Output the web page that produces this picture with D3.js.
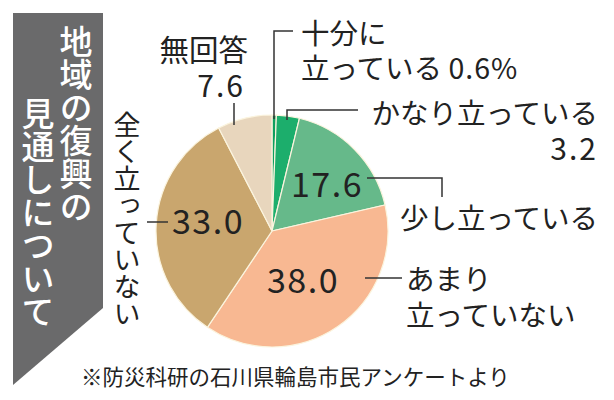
<!DOCTYPE html>
<html><head><meta charset="utf-8">
<script src="https://cdn.jsdelivr.net/npm/d3@7"></script>
<style>
html,body{margin:0;padding:0;background:#fff;}
text{font-family:"Noto Sans CJK JP","Noto Sans",sans-serif;}
</style></head>
<body>
<svg id="c" width="614" height="400"></svg>
<script>
const categories = ["十分に立っている","かなり立っている","少し立っている","あまり立っていない","全く立っていない","無回答"];
const values = [0.6, 3.2, 17.6, 38.0, 33.0, 7.6];
const colors = ["#0e9e5e","#1cae6c","#66b98a","#f8b892","#c9a66e","#e8d6bd"];
const titleLines = ["地域の復興の","見通しについて"];
const note = "※防災科研の石川県輪島市民アンケートより";

const svg = d3.select("#c");
svg.append("rect").attr("width",614).attr("height",400).attr("fill","#fff");

// title banner
svg.append("path").attr("d","M13,13 H103 V308 L13,385 Z").attr("fill","#6a6a6b");
const tcol = [{x:76,y:25},{x:38,y:97}];
titleLines.forEach((t,i)=>{
  svg.append("text").attr("x",tcol[i].x).attr("y",tcol[i].y)
    .style("writing-mode","vertical-rl").attr("font-size",33).attr("font-weight",500)
    .attr("fill","#fff").text(t);
});

// pie
const cx=272, cy=231, r=116;
const pie = d3.pie().sort(null).value(d=>d)(values);
const arc = d3.arc().innerRadius(0).outerRadius(r);
const g = svg.append("g").attr("transform",`translate(${cx},${cy})`);
g.selectAll("path").data(pie).join("path")
  .attr("d",arc).attr("fill",(d,i)=>colors[i])
  .attr("stroke","#fbf4de").attr("stroke-width",1.2);

// leader lines
const leaders = ["M293,31 H274 V119","M358,110 H287 V120","M367,178 H442 V197","M365,278 H402","M147,222 H168","M234,103 V125"];
svg.selectAll("path.ld").data(leaders).join("path").attr("class","ld")
  .attr("d",d=>d).attr("fill","none").attr("stroke","#333").attr("stroke-width",1.5);

const ink="#222";
const fmt = v=>v.toFixed(1);
function L(lines){
  const t = svg.append("text").attr("fill",ink);
  lines.forEach(l=>{
    t.append("tspan").attr("x",l.x).attr("y",l.y).attr("font-size",l.size)
      .attr("text-anchor",l.anchor||"start").attr("letter-spacing",l.ls||0).text(l.s);
  });
  return t;
}
L([{s:"十分に",x:301,y:44,size:28.5},
   {s:"立っている ",x:301,y:79,size:28.5}]).append("tspan").attr("font-size",28.5).attr("letter-spacing",1).text(fmt(values[0])+"%");
L([{s:"かなり立っている",x:598,y:124,size:28.5,anchor:"end"},
   {s:fmt(values[1]),x:598,y:160,size:30,anchor:"end",ls:2}]);
L([{s:"少し立っている",x:598,y:229,size:28.5,anchor:"end"}]);
L([{s:"あまり",x:406,y:290,size:28.5},
   {s:"立っていない",x:406,y:326,size:28.5}]);
L([{s:"無回答",x:248,y:61,size:29.5,anchor:"end"},
   {s:fmt(values[5]),x:245,y:97,size:30,anchor:"end",ls:2}]);
svg.append("text").attr("x",127).attr("y",111).style("writing-mode","vertical-rl")
  .attr("font-size",27).attr("fill",ink).text("全く立っていない");
// inner values
L([{s:fmt(values[2]),x:327,y:197,size:34,anchor:"middle",ls:1.5}]);
L([{s:fmt(values[3]),x:303,y:293,size:34,anchor:"middle",ls:1.5}]);
L([{s:fmt(values[4]),x:208,y:234,size:34,anchor:"middle",ls:1.5}]);
// note
L([{s:note,x:81,y:385,size:21.5}]);
</script>
</body></html>
